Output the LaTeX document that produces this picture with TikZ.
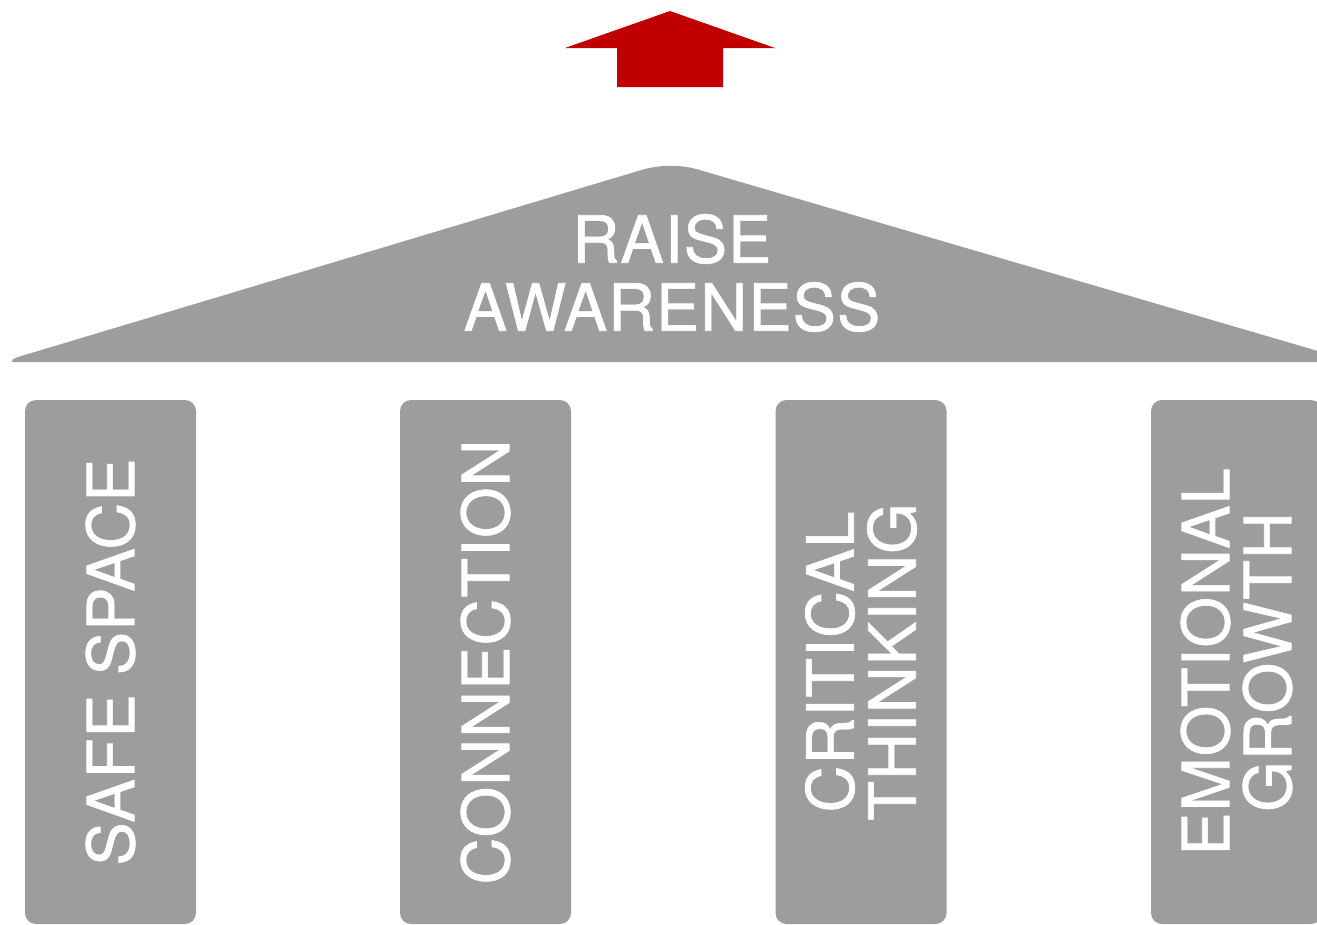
\documentclass[tikz,border=0pt]{standalone}
\usepackage{fontspec}
\setmainfont{TeX Gyre Heros}[FakeBold=1.0,LetterSpace=1.5]
\definecolor{pillargray}{HTML}{9E9D9E}
\definecolor{arrowred}{HTML}{C00000}
\tikzset{
  pillar/.style={fill=pillargray, draw=none, rounded corners=11pt, rotate=90,
    minimum width=524pt, minimum height=171pt, inner sep=0pt,
    text=white, align=center, font=\fontsize{65}{62}\selectfont},
  roofshape/.style={fill=pillargray, draw=none},
  rooflabel/.style={text=white, align=center, inner sep=0pt,
    font=\fontsize{65}{68}\selectfont},
  uparrow/.style={fill=arrowred, draw=none}
}
\begin{document}
\begin{tikzpicture}[x=1pt,y=-1pt]
\useasboundingbox (0,0) rectangle (1317,924);
\clip (0,0) rectangle (1317,924);
% arrow
\fill[uparrow] (670,11) -- (775,48) -- (723,48) -- (723,87) -- (617,87) -- (617,48) -- (565,48) -- cycle;
% roof
\fill[roofshape] (12,362) .. controls (11,360) and (13,359) .. (18,357)
  -- (638,171)
  .. controls (660,164) and (682,164) .. (703,171)
  -- (1335,356) -- (1335,362) -- cycle;
\node[rooflabel] (roof) at (672,273) {RAISE\\AWARENESS};
% pillars
\node[pillar] (p1) at (110.5,662) {SAFE SPACE};
\node[pillar] (p2) at (485.5,662) {CONNECTION};
\node[pillar] (p3) at (861,662) {CRITICAL\\THINKING};
\node[pillar] (p4) at (1236.5,662) {EMOTIONAL\\GROWTH};
\end{tikzpicture}
\end{document}
